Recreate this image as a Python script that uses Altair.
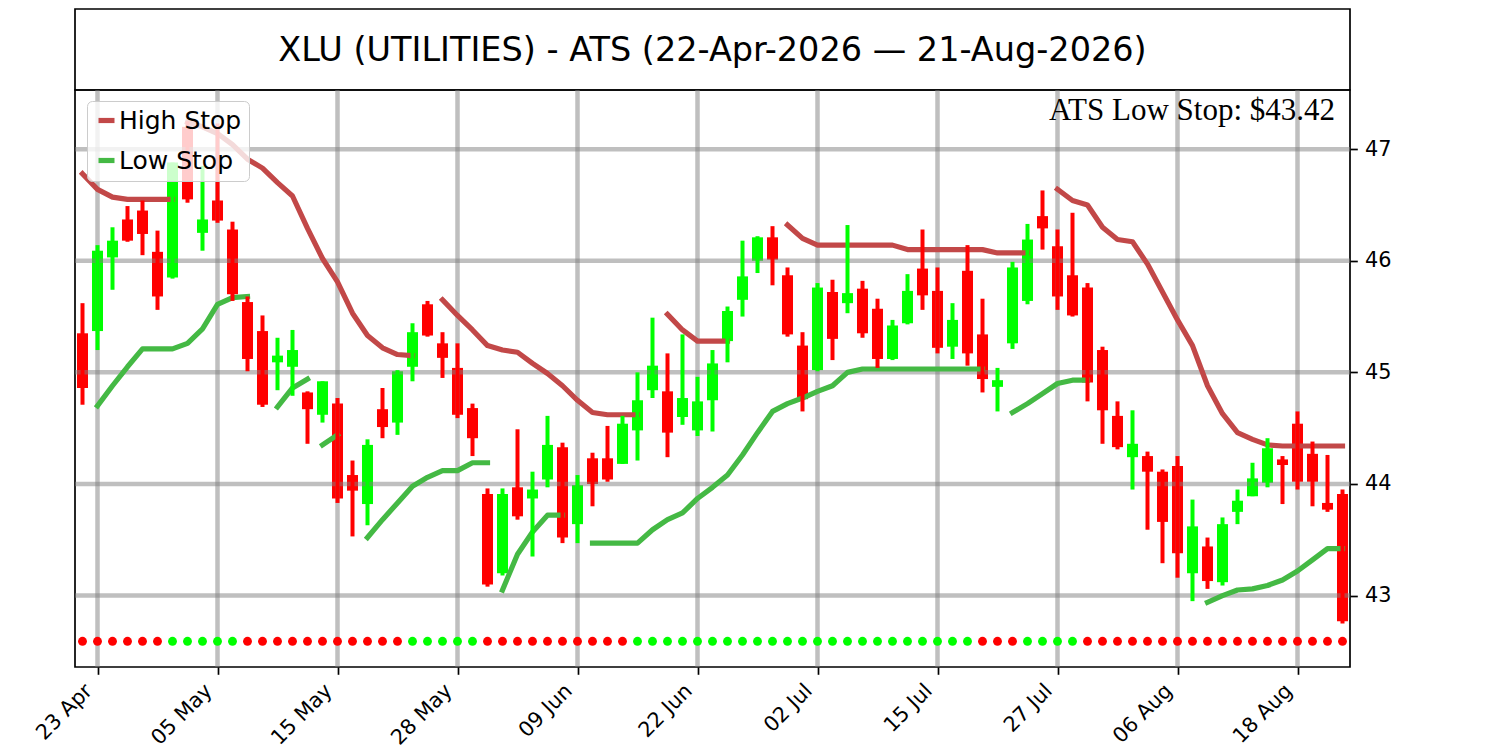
import altair as alt
import pandas as pd

# ---- data (85 sessions, 22-Apr-2026 .. 21-Aug-2026) ----
opens = [45.35, 45.37, 46.03, 46.37, 46.45, 46.08, 45.85, 47.20, 46.25, 46.54,
         46.28, 45.63, 45.37, 45.09, 45.05, 44.82, 44.62, 44.72, 44.08, 43.82,
         44.67, 44.55, 45.05, 45.61, 45.26, 45.04, 44.68, 43.91, 43.20, 43.97,
         43.87, 44.04, 44.33, 43.64, 44.23, 44.23, 44.18, 44.48, 44.84, 44.83,
         44.60, 44.48, 44.75, 45.28, 45.65, 46.00, 46.21, 45.87, 45.24, 45.02,
         45.72, 45.62, 45.75, 45.57, 45.12, 45.44, 45.93, 45.73, 45.23, 45.91,
         45.34, 44.87, 45.26, 45.64, 46.40, 46.13, 45.87, 45.76, 45.20, 44.61,
         44.24, 44.25, 44.11, 44.16, 43.20, 43.44, 43.12, 43.75, 43.89, 44.01,
         44.22, 44.54, 44.27, 43.83, 43.91]
highs = [45.62, 46.14, 46.30, 46.49, 46.54, 46.27, 46.88, 47.25, 46.85, 47.23,
         46.35, 45.68, 45.51, 45.31, 45.38, 44.83, 44.92, 44.77, 44.21, 44.40,
         44.86, 45.02, 45.44, 45.64, 45.36, 45.26, 44.72, 43.96, 43.96, 44.49,
         44.11, 44.61, 44.37, 44.08, 44.28, 44.52, 44.61, 45.00, 45.49, 45.17,
         45.34, 44.96, 45.20, 45.59, 46.18, 46.22, 46.31, 45.94, 45.36, 45.80,
         45.83, 46.32, 45.82, 45.66, 45.47, 45.88, 46.28, 45.94, 45.62, 46.14,
         45.66, 45.04, 45.99, 46.33, 46.63, 46.28, 46.43, 45.80, 45.23, 44.74,
         44.66, 44.29, 44.13, 44.25, 43.86, 43.52, 43.70, 43.95, 44.19, 44.41,
         44.25, 44.65, 44.38, 44.26, 43.95]
lows = [44.71, 45.20, 45.74, 46.17, 46.05, 45.56, 45.84, 46.52, 46.09, 46.34,
        45.64, 45.01, 44.69, 44.84, 44.79, 44.36, 44.55, 43.83, 43.53, 43.63,
        44.41, 44.44, 44.92, 45.32, 44.95, 44.59, 44.25, 43.08, 43.18, 43.68,
        43.35, 43.97, 43.47, 43.47, 43.80, 44.02, 44.18, 44.21, 44.77, 44.24,
        44.53, 44.43, 44.47, 45.09, 45.50, 45.89, 45.78, 45.32, 44.65, 45.01,
        45.11, 45.53, 45.31, 45.04, 45.11, 45.43, 45.56, 45.17, 45.12, 45.06,
        44.82, 44.65, 45.21, 45.61, 46.10, 45.56, 45.50, 44.74, 44.36, 44.31,
        43.95, 43.59, 43.29, 43.16, 42.95, 43.06, 43.09, 43.64, 43.89, 43.97,
        43.82, 43.95, 43.80, 43.75, 42.75]
closes = [44.86, 46.09, 46.18, 46.18, 46.24, 45.68, 46.88, 46.55, 46.37, 46.36,
          45.70, 45.12, 44.71, 45.15, 45.20, 44.67, 44.92, 43.87, 43.94, 44.35,
          44.51, 45.01, 45.36, 45.33, 45.13, 44.62, 44.41, 43.10, 43.91, 43.71,
          43.95, 44.35, 43.52, 43.99, 44.00, 44.04, 44.54, 44.75, 45.06, 44.46,
          44.77, 44.74, 45.08, 45.55, 45.86, 46.21, 46.01, 45.34, 44.76, 45.76,
          45.30, 45.71, 45.35, 45.12, 45.42, 45.73, 45.69, 45.22, 45.47, 45.17,
          44.94, 44.93, 45.94, 46.19, 46.29, 45.68, 45.51, 44.91, 44.66, 44.33,
          44.36, 44.11, 43.66, 43.38, 43.62, 43.13, 43.64, 43.85, 44.05, 44.32,
          44.17, 44.02, 44.02, 43.77, 42.77]

# trend signal per session (G = up, R = down), shown as the dot row
trend = list("RRRRRRGGGGGRRRRRRRRRRRGGGGGRRRRRRRRRRGGGGGGGGGGGGGGGGGGGGGGGRRRGGGGRRRRRRRRRRRRRRRRRR")
signal_level = 42.59

# ATS stop segments: (first session index, values)
high_stop_segments = [
    (0, [46.78, 46.64, 46.57, 46.55, 46.55, 46.55, 46.55]),
    (7, [47.24, 47.20, 47.14, 47.04, 46.91, 46.83, 46.70, 46.58, 46.29, 46.02,
         45.81, 45.53, 45.33, 45.22, 45.16, 45.15]),
    (24, [45.65, 45.51, 45.38, 45.24, 45.20, 45.18, 45.08, 44.99, 44.88, 44.75,
          44.64, 44.62, 44.62, 44.62]),
    (39, [45.52, 45.38, 45.28, 45.28, 45.28]),
    (47, [46.32, 46.20, 46.14, 46.14, 46.14, 46.14, 46.14, 46.14, 46.10, 46.10,
          46.10, 46.10, 46.10, 46.10, 46.07, 46.07, 46.07]),
    (65, [46.64, 46.54, 46.50, 46.30, 46.19, 46.17, 45.97, 45.72, 45.47, 45.24,
          44.88, 44.63, 44.46, 44.40, 44.35, 44.34, 44.34, 44.34, 44.34, 44.34]),
]
low_stop_segments = [
    (1, [44.70, 44.88, 45.05, 45.21, 45.21, 45.21, 45.26, 45.39, 45.61, 45.67, 45.68]),
    (13, [44.69, 44.86, 44.94]),
    (16, [44.35, 44.44]),
    (19, [43.52, 43.68, 43.83, 43.98, 44.06, 44.12, 44.12, 44.19, 44.19]),
    (28, [43.05, 43.37, 43.57, 43.72, 43.72]),
    (34, [43.47, 43.47, 43.47, 43.47, 43.59, 43.68, 43.74, 43.87, 43.97, 44.08,
          44.26, 44.46, 44.65, 44.72, 44.77, 44.83, 44.88, 45.00, 45.03, 45.03,
          45.03, 45.03, 45.03, 45.03, 45.03, 45.03, 45.03]),
    (62, [44.64, 44.72, 44.81, 44.90, 44.93, 44.93]),
    (75, [42.94, 43.00, 43.05, 43.06, 43.09, 43.14, 43.22, 43.32, 43.42, 43.42]),
]

tick_idx = [1, 9, 17, 25, 33, 41, 49, 57, 65, 73, 81]
tick_labels = ["23 Apr", "05 May", "15 May", "28 May", "09 Jun", "22 Jun",
               "02 Jul", "15 Jul", "27 Jul", "06 Aug", "18 Aug"]
y_ticks = [43, 44, 45, 46, 47]

title_text = "XLU (UTILITIES) - ATS (22-Apr-2026 \u2014 21-Aug-2026)"
series_names = ["High Stop", "Low Stop"]
series_colors = ["#c24848", "#44b944"]
UP, DOWN = "#00ff00", "#ff0000"

# ---- tables ----
n = len(opens)
candles = pd.DataFrame({"i": list(range(n)), "open": opens, "high": highs,
                        "low": lows, "close": closes, "trend": trend})
candles["level"] = signal_level

rows = []
for name, segs in zip(series_names, (high_stop_segments, low_stop_segments)):
    for k, (start, vals) in enumerate(segs):
        for j, v in enumerate(vals):
            rows.append({"i": start + j, "stop": v, "series": name, "seg": f"{name} {k}"})
stops = pd.DataFrame(rows)

low_stop_last = low_stop_segments[-1][1][-1]
note = pd.DataFrame({"label": [f"ATS Low Stop: ${low_stop_last:.2f}"]})
xgrid = pd.DataFrame({"i": tick_idx})
ygrid = pd.DataFrame({"v": y_ticks})

W, H, HEAD = 1275, 577, 81
FONT = "DejaVu Sans"
label_expr = ("[" + ",".join(f"'{t}'" for t in tick_labels) + "][indexof(["
              + ",".join(str(t) for t in tick_idx) + "], datum.value)]")

xscale = alt.Scale(domain=[-0.5, 84.5], nice=False, zero=False, padding=0)
yscale = alt.Scale(domain=[42.36, 47.53], nice=False, zero=False, padding=0)

x_axis = alt.Axis(values=tick_idx, labelExpr=label_expr, labelAngle=315,
                  labelAlign="right", labelBaseline="top", labelFontSize=20.8,
                  labelFont=FONT, labelColor="black", labelPadding=6, labelOffset=-16,
                  tickSize=7.3, tickWidth=1.7, tickColor="black", grid=False,
                  domain=False, title=None, labelOverlap=False, labelBound=False,
                  labelFlush=False)
y_axis = alt.Axis(orient="right", values=y_ticks, format="d", labelFontSize=20.8,
                  labelFont=FONT, labelColor="black", labelPadding=7.3,
                  tickSize=7.3, tickWidth=1.7, tickColor="black", grid=False,
                  domain=False, title=None, labelOverlap=False)


def X(field="i"):
    return alt.X(f"{field}:Q", scale=xscale, axis=x_axis)


def Y(field):
    return alt.Y(f"{field}:Q", scale=yscale, axis=y_axis)


up_color = alt.condition("datum.close >= datum.open", alt.value(UP), alt.value(DOWN))

bodies = alt.Chart(candles).mark_bar(size=11, orient="vertical").encode(
    x=X(), y=Y("open"), y2="close:Q", color=up_color)

vgrid = alt.Chart(xgrid).mark_rule(color="gray", opacity=0.5, strokeWidth=4.5).encode(x=X())
hgrid = alt.Chart(ygrid).mark_rule(color="gray", opacity=0.5, strokeWidth=4.5).encode(y=Y("v"))

lines = alt.Chart(stops).mark_line(strokeWidth=5.2, strokeCap="square", strokeJoin="round").encode(
    x=X(), y=Y("stop"),
    color=alt.Color("series:N", scale=alt.Scale(domain=series_names, range=series_colors),
                    legend=alt.Legend(title=None, orient="none", legendX=12, legendY=HEAD + 11,
                                      symbolType="stroke", symbolStrokeWidth=5.2,
                                      symbolSize=256, labelFontSize=25, labelFont=FONT,
                                      labelColor="black", fillColor="rgba(255,255,255,0.8)",
                                      strokeColor="#cccccc", cornerRadius=5, padding=7,
                                      rowPadding=14, labelOffset=0, labelLimit=400)),
    detail="seg:N", order="i:Q")

wicks = alt.Chart(candles).mark_rule(strokeWidth=4).encode(
    x=X(), y=Y("low"), y2="high:Q", color=up_color)

dots = alt.Chart(candles).mark_circle(size=80, opacity=1).encode(
    x=X(), y=Y("level"),
    color=alt.condition("datum.trend == 'G'", alt.value(UP), alt.value(DOWN)))

note_mark = alt.Chart(note).mark_text(font="Liberation Serif", fontSize=31, align="right",
                                      baseline="alphabetic", color="black").encode(
    x=alt.value(1260), y=alt.value(30), text="label:N")

main = alt.layer(bodies, vgrid, hgrid, lines, wicks, dots, note_mark).properties(width=W, height=H)

head = alt.Chart(pd.DataFrame({"t": [title_text]})).mark_text(
    font=FONT, fontSize=33.5, color="black", baseline="middle", align="center").encode(
    x=alt.value(W / 2), y=alt.value(42), text="t:N").properties(width=W, height=HEAD)

chart = alt.vconcat(head, main, spacing=0, bounds="flush").properties(
    padding={"left": 23, "top": 0, "right": 5, "bottom": 0},
    background="white",
).configure_view(stroke="black", strokeWidth=1.7)

chart.save("out.html", embed_options={"renderer": "svg", "actions": False})
